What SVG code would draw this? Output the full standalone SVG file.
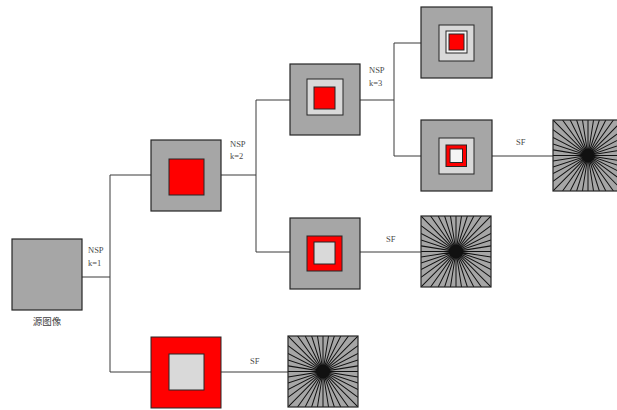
<svg xmlns="http://www.w3.org/2000/svg" xmlns:xlink="http://www.w3.org/1999/xlink" width="617" height="410" viewBox="0 0 617 410">
  <defs>
    <style>
      .outer { fill: #a6a6a6; stroke: #262626; stroke-width: 1.2; }
      .red { fill: #ff0000; stroke: #262626; stroke-width: 1; }
      .lg { fill: #d9d9d9; stroke: #262626; stroke-width: 1; }
      .wh { fill: #f4f4f4; stroke: #262626; stroke-width: 1; }
      .wire { fill: none; stroke: #3a3a3a; stroke-width: 1; }
      .lbl { font-family: "Liberation Serif", "Noto Sans CJK SC", serif; font-size: 8.5px; fill: #4a4a4a; }
      .cap { font-family: "Noto Sans CJK SC", "Liberation Serif", serif; font-size: 9.5px; fill: #404040; }
      .rays { fill: none; stroke: #111111; stroke-width: 1; }
    </style>
    <clipPath id="sq"><rect x="0" y="0" width="70" height="71"/></clipPath>
    <!-- spectral-filter tile: rays through the centre every 9 degrees -->
    <g id="burst">
      <rect x="0" y="0" width="70" height="71" fill="#a6a6a6"/>
      <g clip-path="url(#sq)">
        <path class="rays" transform="scale(1,1.014)" d="M0 0L70 70M70 0L0 70M70 35L0 35M70 40.54L0 29.46M70 29.46L0 40.54M70 46.37L0 23.63M70 23.63L0 46.37M70 52.83L0 17.17M70 17.17L0 52.83M70 60.43L0 9.57M70 9.57L0 60.43M35 0L35 70M40.54 0L29.46 70M29.46 0L40.54 70M46.37 0L23.63 70M23.63 0L46.37 70M52.83 0L17.17 70M17.17 0L52.83 70M60.43 0L9.57 70M9.57 0L60.43 70"/>
      </g>
      <rect x="0" y="0" width="70" height="71" fill="none" stroke="#262626" stroke-width="1.2"/>
    </g>
  </defs>

  <g id="connectors">
    <path class="wire" d="M82 277H110M110 175V372M110 175H151M110 372H151"/>
    <path class="wire" d="M221 175H256M256 100V252M256 100H290M256 252H290"/>
    <path class="wire" d="M360 100H394M394 43V156M394 43H421M394 156H421"/>
    <path class="wire" d="M492 156H553"/>
    <path class="wire" d="M360 252H421"/>
    <path class="wire" d="M221 372H288"/>
    <text class="lbl" x="88" y="253">NSP</text>
    <text class="lbl" x="88" y="266">k=1</text>
    <text class="lbl" x="230" y="147">NSP</text>
    <text class="lbl" x="230" y="159">k=2</text>
    <text class="lbl" x="369" y="73">NSP</text>
    <text class="lbl" x="369" y="86">k=3</text>
    <text class="lbl" x="516" y="145">SF</text>
    <text class="lbl" x="386" y="242">SF</text>
    <text class="lbl" x="250" y="364">SF</text>
  </g>

  <g id="source">
    <rect class="outer" x="12" y="239" width="70" height="71"/>
    <text class="cap" x="47" y="325" text-anchor="middle">源图像</text>
  </g>

  <g id="nsp-k1-a">
    <rect class="outer" x="151" y="140" width="70" height="71"/>
    <rect class="red" x="169" y="159" width="35" height="36"/>
  </g>

  <g id="nsp-k1-b">
    <rect class="red" x="151" y="337" width="70" height="71"/>
    <rect class="lg" x="169" y="354" width="35" height="36"/>
  </g>

  <g id="nsp-k2-a">
    <rect class="outer" x="290" y="64" width="70" height="71"/>
    <rect class="lg" x="307" y="79" width="36" height="36"/>
    <rect class="red" x="314" y="87" width="21" height="22"/>
  </g>

  <g id="nsp-k2-b">
    <rect class="outer" x="290" y="218" width="70" height="71"/>
    <rect class="red" x="307" y="236" width="35" height="35"/>
    <rect class="lg" x="314" y="242" width="21" height="22"/>
  </g>

  <g id="nsp-k3-a">
    <rect class="outer" x="421" y="7" width="71" height="71"/>
    <rect class="lg" x="439" y="25" width="35" height="36"/>
    <rect class="wh" x="446" y="31" width="21" height="22" fill="#ffffff"/>
    <rect class="red" x="449" y="34" width="15" height="16"/>
  </g>

  <g id="nsp-k3-b">
    <rect class="outer" x="421" y="120" width="71" height="71"/>
    <rect class="lg" x="439" y="138" width="35" height="36"/>
    <rect x="446" y="145" width="20.5" height="21.5" fill="#ff0000" stroke="#262626" stroke-width="1"/>
    <rect class="wh" x="450" y="149" width="12.5" height="13.5"/>
  </g>

  <g id="sf-1">
    <use xlink:href="#burst" x="553" y="120"/>
  </g>

  <g id="sf-2">
    <use xlink:href="#burst" x="421" y="216"/>
  </g>

  <g id="sf-3">
    <use xlink:href="#burst" x="288" y="336"/>
  </g>
</svg>
